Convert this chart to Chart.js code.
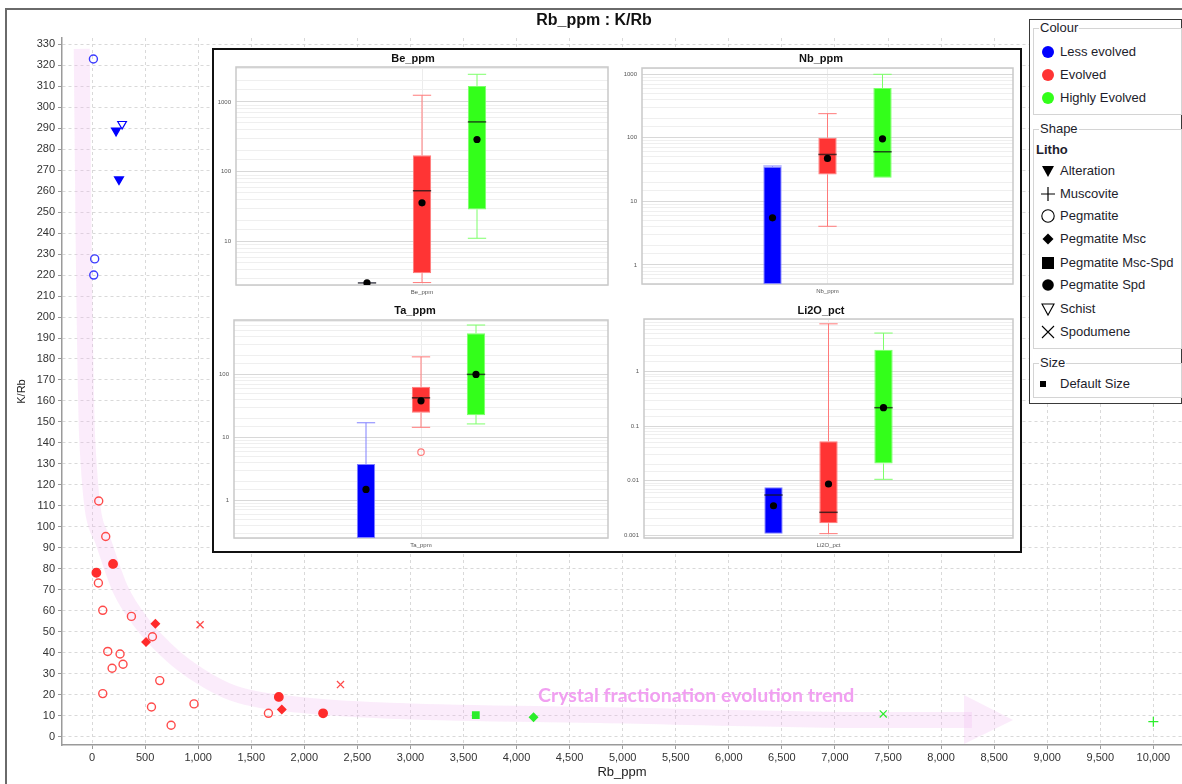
<!DOCTYPE html>
<html>
<head>
<meta charset="utf-8">
<title>Rb_ppm : K/Rb</title>
<script src="https://cdn.jsdelivr.net/npm/chart.js@4/dist/chart.umd.min.js"></script>
<style>
  html, body { margin: 0; padding: 0; background: #fff; }
  body { width: 1182px; height: 784px; position: relative; overflow: hidden;
         font-family: "Liberation Sans", Arial, sans-serif; }
  #frame { position: absolute; left: 5px; top: 8px; width: 1300px; height: 900px;
           border-left: 2px solid #6a6a6a; border-top: 2px solid #6a6a6a; }
  #main { position: absolute; left: 0; top: 0; }
  #title { position: absolute; left: 0; width: 1188px; top: 11px; text-align: center;
           font: bold 16px "Liberation Sans", Arial, sans-serif; color: #111; }
  #inset { position: absolute; left: 212px; top: 48px; width: 810px; height: 505px;
           box-sizing: border-box; border: 2px solid #111; background: #fff; }
  .panel { position: absolute; }
  #legend { position: absolute; left: 1029px; top: 19px; width: 153px; height: 385px;
            box-sizing: border-box; border: 1.5px solid #3a3a3a; background: #fff;
            font: 13px "Liberation Sans", Arial, sans-serif; color: #1d1d2b; }
  .grp { position: absolute; border: 1px solid #d4d4d4; box-sizing: border-box; }
  .grp-label { position: absolute; background: #fff; padding: 0 1px; line-height: 14px; }
  .item { position: absolute; height: 16px; line-height: 16px; white-space: nowrap; }
  .sym { position: absolute; width: 16px; height: 16px; }
</style>
</head>
<body>
<div id="frame"></div>
<canvas id="main" width="1182" height="784"></canvas>
<div id="title">Rb_ppm : K/Rb</div>

<div id="inset"></div>
<canvas class="panel" id="pBe" width="399" height="250" style="left:214px;top:50px"></canvas>
<canvas class="panel" id="pNb" width="406" height="250" style="left:613px;top:50px"></canvas>
<canvas class="panel" id="pTa" width="399" height="251" style="left:214px;top:300px"></canvas>
<canvas class="panel" id="pLi" width="406" height="251" style="left:613px;top:300px"></canvas>

<div id="legend"></div>

<script>
// ---------------- Scatter samples: [Rb_ppm, K/Rb] ----------------
const lessPegmatite     = [[13, 323], [25, 227.7], [16, 220]];
const lessAlteration    = [[226, 288.8], [254, 265.6]];
const lessSchist        = [[283, 292]];
const evolvedPegmatite  = [[63, 112.3], [129, 95.4], [60, 73.2], [101, 60.2], [371, 57.3], [569, 47.6],
                           [148, 40.6], [264, 39.4], [292, 34.5], [189, 32.6], [638, 26.7], [101, 20.5],
                           [560, 14.1], [961, 15.6], [745, 5.4], [1662, 11.1]];
const evolvedPegSpd     = [[198, 82.3], [41, 78.1], [1760, 18.9], [2177, 11.1]];
const evolvedPegMsc     = [[597, 53.8], [509, 45.1], [1788, 12.9]];
const evolvedSpodumene  = [[1018, 53.3], [2341, 24.8]];
const highPegMscSpd     = [[3616, 10.2]];
const highPegMsc        = [[4160, 9.2]];
const highSpodumene     = [[7455, 10.8]];
const highMuscovite     = [[10000, 7.1]];

// Axis tick values
const rbTicks  = [0, 500, 1000, 1500, 2000, 2500, 3000, 3500, 4000, 4500, 5000,
                  5500, 6000, 6500, 7000, 7500, 8000, 8500, 9000, 9500, 10000];
const kRbTicks = [0, 10, 20, 30, 40, 50, 60, 70, 80, 90, 100, 110, 120, 130, 140, 150, 160,
                  170, 180, 190, 200, 210, 220, 230, 240, 250, 260, 270, 280, 290, 300, 310, 320, 330];

// Hand-drawn fractionation trend (data coordinates) and its arrow head
const trendPath = [[-97, 327.8], [-78, 231.7], [-45, 141.3], [101, 93.7], [271, 69.8], [468, 54.1],
                   [761, 38.4], [1015, 28.9], [1326, 20.8], [1958, 15.1], [2899, 12.2], [4785, 10.3],
                   [7424, 7.9], [8291, 7.9]];
const trendArrowHead = [[8216, 19.8], [8678, 7.9], [8216, -3.5]];
const trendLabel = 'Crystal fractionation evolution trend';
const trendLabelAt = [5693, 19.4];

// ---------------- Box-plot statistics ----------------
// rows: Less evolved, Evolved, Highly Evolved
// columns: [lower whisker, Q1, median, Q3, upper whisker, mean]
const groups = ['Less evolved', 'Evolved', 'Highly Evolved'];
const beBox = [[null, 2.54, 2.57, 2.61, null, 2.57],
               [2.6, 3.54, 53.6, 173, 1247, 36],
               [11.2, 29, 518, 1693, 2487, 290]];
const nbBox = [[null, 0.5, null, 35, 36, 5.5],
               [4.05, 26.5, 54.7, 100, 240, 47.3],
               [null, 23.6, 60.3, 609, 1000, 96.5]];
const taBox = [[null, 0.25, null, 3.77, 17, 1.48],
               [14.4, 24.5, 42.4, 63.5, 190, 38],
               [16.3, 22.5, 100, 450, 610, 100]];
const liBox = [[null, 0.00107, 0.00546, 0.00757, null, 0.00347],
               [0.00107, 0.00165, 0.00263, 0.053, 7.5, 0.0087],
               [0.0106, 0.0206, 0.218, 2.5, 5.08, 0.218]];
const taOutliers = [[], [5.8], []];

// ---------------- Styling ----------------
const BLUE = '#0000ff', BLUE_OPEN = '#3b3bff';
const RED = '#ff2b2b', RED_OPEN = '#ff4a4a';
const GREEN = '#2bee2b';
const boxFill  = ['#0000ff', '#ff3434', '#33ff1a'];
const boxLine  = ['#8080ff', '#ff7a7a', '#7dff6a'];
const tickFont = { family: '"Liberation Sans", Arial, sans-serif', size: 11 };

const xy = arr => arr.map(p => ({ x: p[0], y: p[1] }));

function pts(data, style, color, opts = {}) {
  return Object.assign({
    data: xy(data), pointStyle: style, pointRadius: 4,
    borderColor: color, backgroundColor: color, pointBorderWidth: 1.4, showLine: false
  }, opts);
}

// Arrow head + trend caption, drawn with the chart's own scales
const trendDecor = {
  id: 'trendDecor',
  beforeDatasetsDraw(chart) {
    const { ctx, scales: { x, y } } = chart;
    ctx.save();
    ctx.beginPath();
    trendArrowHead.forEach((p, i) => {
      const px = x.getPixelForValue(p[0]), py = y.getPixelForValue(p[1]);
      i ? ctx.lineTo(px, py) : ctx.moveTo(px, py);
    });
    ctx.closePath();
    ctx.fillStyle = 'rgba(240,185,240,0.28)';
    ctx.fill();
    ctx.font = 'bold 19.5px Lato, "Open Sans", sans-serif';
    ctx.fillStyle = '#f19ff1';
    ctx.textAlign = 'center';
    ctx.textBaseline = 'middle';
    ctx.fillText(trendLabel, x.getPixelForValue(trendLabelAt[0]), y.getPixelForValue(trendLabelAt[1]));
    ctx.restore();
  }
};

const fixedTicks = values => scale => { scale.ticks = values.map(v => ({ value: v })); };

new Chart(document.getElementById('main'), {
  type: 'scatter',
  data: {
    datasets: [
      { type: 'line', data: xy(trendPath), borderColor: 'rgba(240,185,240,0.28)', borderWidth: 16,
        pointRadius: 0, cubicInterpolationMode: 'monotone', fill: false, order: 100 },
      pts(lessPegmatite, 'circle', BLUE_OPEN, { backgroundColor: 'rgba(0,0,0,0)' }),
      pts(lessAlteration, 'triangle', BLUE, { rotation: 180, pointRadius: 5 }),
      pts(lessSchist, 'triangle', BLUE, { rotation: 180, pointRadius: 5, backgroundColor: '#fff', pointBorderWidth: 1.2 }),
      pts(evolvedPegmatite, 'circle', RED_OPEN, { backgroundColor: 'rgba(0,0,0,0)' }),
      pts(evolvedPegSpd, 'circle', RED, { pointRadius: 4.2 }),
      pts(evolvedPegMsc, 'rectRot', RED, { pointRadius: 4 }),
      pts(evolvedSpodumene, 'crossRot', RED_OPEN, { pointRadius: 5, pointBorderWidth: 1.3 }),
      pts(highPegMscSpd, 'rect', GREEN, { pointRadius: 4.5 }),
      pts(highPegMsc, 'rectRot', GREEN, { pointRadius: 4 }),
      pts(highSpodumene, 'crossRot', GREEN, { pointRadius: 5, pointBorderWidth: 1.2 }),
      pts(highMuscovite, 'cross', GREEN, { pointRadius: 5, pointBorderWidth: 1.2 })
    ]
  },
  options: {
    responsive: false, animation: false, events: [],
    layout: { autoPadding: false, padding: { left: 10, top: 38, right: 0, bottom: 0 } },
    plugins: { legend: { display: false }, tooltip: { enabled: false } },
    scales: {
      x: {
        type: 'linear', min: -283, max: 10270,
        afterBuildTicks: fixedTicks(rbTicks),
        ticks: { autoSkip: false, maxRotation: 0, font: tickFont, color: '#333', padding: 2,
                 callback: v => v.toLocaleString('en-US') },
        grid: { color: '#d9d9d9', tickLength: 4, tickColor: '#999' },
        border: { color: '#9a9a9a', width: 1.5, dash: [3, 3] },
        title: { display: true, text: 'Rb_ppm', color: '#222', padding: { top: 2, bottom: 4 },
                 font: { family: tickFont.family, size: 13 } },
        afterFit: s => { s.height = 39; s.paddingLeft = 0; s.paddingRight = 0; }
      },
      y: {
        type: 'linear', min: -4, max: 333,
        afterBuildTicks: fixedTicks(kRbTicks),
        ticks: { autoSkip: false, font: tickFont, color: '#333', padding: 3 },
        grid: { color: '#d9d9d9', tickLength: 4, tickColor: '#999' },
        border: { color: '#9a9a9a', width: 1.5, dash: [3, 3] },
        title: { display: true, text: 'K/Rb', color: '#222', padding: { top: 5, bottom: 2 },
                 font: { family: tickFont.family, size: 11 } },
        afterFit: s => { s.width = 52; }
      }
    }
  },
  plugins: [trendDecor]
});

// ---------------- Box-plot panels ----------------
const panelFrame = {
  id: 'panelFrame',
  beforeDatasetsDraw(chart) {
    const { ctx, chartArea: a } = chart;
    ctx.save();
    ctx.strokeStyle = '#c9c9c9';
    ctx.lineWidth = 1.5;
    ctx.strokeRect(a.left, a.top, a.right - a.left, a.bottom - a.top);
    ctx.restore();
  }
};

const panelTitle = {
  id: 'panelTitle',
  afterDraw(chart, args, opts) {
    const { ctx } = chart;
    ctx.save();
    ctx.font = 'bold 11px "Liberation Sans", Arial, sans-serif';
    ctx.fillStyle = '#111';
    ctx.textAlign = 'center';
    ctx.textBaseline = 'middle';
    ctx.fillText(opts.text, opts.x, opts.y);
    ctx.restore();
  }
};

const boxStats = {
  id: 'boxStats',
  afterDatasetsDraw(chart, args, opts) {
    const { ctx, scales: { y } } = chart;
    const a = chart.chartArea;
    ctx.save();
    ctx.beginPath();
    ctx.rect(a.left, a.top, a.right - a.left, a.bottom - a.top);
    ctx.clip();
    opts.stats.forEach((row, i) => {
      const bar = chart.getDatasetMeta(i).data[0];
      const cx = bar.x, hw = bar.width / 2;
      const [lo, q1, med, q3, hi, mean] = row;
      ctx.strokeStyle = boxLine[i];
      ctx.lineWidth = 1;
      const whisker = (from, to) => {
        const y1 = y.getPixelForValue(from), y2 = y.getPixelForValue(to);
        ctx.beginPath();
        ctx.moveTo(cx, y1); ctx.lineTo(cx, y2);
        ctx.moveTo(cx - hw, y2); ctx.lineTo(cx + hw, y2);
        ctx.stroke();
      };
      if (hi !== null) whisker(q3, hi);
      if (lo !== null) whisker(q1, lo);
      if (med !== null) {
        const ym = y.getPixelForValue(med);
        ctx.strokeStyle = 'rgba(20,20,20,0.75)';
        ctx.lineWidth = 1.5;
        ctx.beginPath();
        ctx.moveTo(cx - hw, ym); ctx.lineTo(cx + hw, ym);
        ctx.stroke();
      }
      if (mean !== null) {
        ctx.fillStyle = '#000';
        ctx.beginPath();
        ctx.arc(cx, y.getPixelForValue(mean), 3.6, 0, Math.PI * 2);
        ctx.fill();
      }
      (opts.outliers[i] || []).forEach(v => {
        ctx.strokeStyle = boxLine[i];
        ctx.lineWidth = 1.2;
        ctx.beginPath();
        ctx.arc(cx, y.getPixelForValue(v), 3.2, 0, Math.PI * 2);
        ctx.stroke();
      });
    });
    ctx.restore();
  }
};

const logLabel = v => {
  const e = Math.log10(v);
  return Math.abs(e - Math.round(e)) < 1e-6 ? String(Number(v.toPrecision(1))) : '';
};

function boxPanel(id, name, stats, outliers, range, area) {
  const canvas = document.getElementById(id);
  const w = canvas.width, h = canvas.height;
  new Chart(canvas, {
    type: 'bar',
    data: {
      labels: [name],
      datasets: stats.map((row, i) => ({
        label: groups[i],
        data: [[row[1], row[3]]],
        backgroundColor: boxFill[i],
        borderColor: boxLine[i],
        borderWidth: 1,
        borderSkipped: false,
        barPercentage: 0.333,
        categoryPercentage: 165 / (area.right - area.left)
      }))
    },
    options: {
      responsive: false, animation: false, events: [],
      layout: { padding: { left: 0, top: area.top, right: w - area.right, bottom: 0 } },
      plugins: {
        legend: { display: false }, tooltip: { enabled: false },
        panelTitle: { text: name, x: area.titleX, y: area.titleY },
        boxStats: { stats, outliers }
      },
      scales: {
        x: {
          grid: { offset: false, color: '#ececec', drawTicks: false },
          border: { display: false },
          ticks: { font: { size: 6 }, color: '#555', padding: 4 },
          afterFit: s => { s.height = h - area.bottom; }
        },
        y: {
          type: 'logarithmic', min: range[0], max: range[1],
          grid: { drawTicks: false,
                  color: c => (c.tick && logLabel(c.tick.value) !== '' ? '#d8d8d8' : '#efefef') },
          border: { display: false },
          ticks: { autoSkip: false, font: { size: 6 }, color: '#555', padding: 5, callback: logLabel },
          afterFit: s => { s.width = area.left; }
        }
      }
    },
    plugins: [panelFrame, boxStats, panelTitle]
  });
}

boxPanel('pBe', 'Be_ppm', beBox, [[], [], []], [2.4, 3162],
         { left: 22, right: 394, top: 17, bottom: 235, titleX: 199, titleY: 9 });
boxPanel('pNb', 'Nb_ppm', nbBox, [[], [], []], [0.5, 1256],
         { left: 29, right: 400, top: 18, bottom: 234, titleX: 208, titleY: 9 });
boxPanel('pTa', 'Ta_ppm', taBox, taOutliers, [0.25, 733],
         { left: 20, right: 394, top: 20, bottom: 238, titleX: 201, titleY: 11 });
boxPanel('pLi', 'Li2O_pct', liBox, [[], [], []], [0.00089, 9.2],
         { left: 31, right: 400, top: 19, bottom: 238, titleX: 208, titleY: 11 });

// ---------------- Legend ----------------
const symbolSvg = {
  dot:      c => `<circle cx="8" cy="8" r="6" fill="${c}"/>`,
  down:     () => `<polygon points="2,3 14,3 8,14" fill="#000"/>`,
  plus:     () => `<path d="M1,8H15M8,1V15" stroke="#000" stroke-width="1.2"/>`,
  ring:     () => `<circle cx="8" cy="8" r="6.2" fill="none" stroke="#000" stroke-width="1.1"/>`,
  diamond:  () => `<polygon points="8,2.5 13.5,8 8,13.5 2.5,8" fill="#000"/>`,
  square:   () => `<rect x="2" y="2" width="12" height="12" fill="#000"/>`,
  disc:     () => `<circle cx="8" cy="8" r="5.8" fill="#000"/>`,
  downOpen: () => `<polygon points="2,3 14,3 8,14" fill="none" stroke="#000" stroke-width="1.1"/>`,
  cross:    () => `<path d="M2,2L14,14M14,2L2,14" stroke="#000" stroke-width="1.1"/>`,
  small:    () => `<rect x="5" y="5" width="6" height="6" fill="#000"/>`
};

const colourItems = [['Less evolved', '#0000ff'], ['Evolved', '#ff3434'], ['Highly Evolved', '#33ff1a']];
const shapeItems = [['Alteration', 'down'], ['Muscovite', 'plus'], ['Pegmatite', 'ring'],
                    ['Pegmatite Msc', 'diamond'], ['Pegmatite Msc-Spd', 'square'], ['Pegmatite Spd', 'disc'],
                    ['Schist', 'downOpen'], ['Spodumene', 'cross']];

const legendEl = document.getElementById('legend');
const L0 = { x: 1029, y: 19 };
let html = '';
const box = (top, bottom, label) => {
  html += `<div class="grp" style="left:${1032 - L0.x}px;top:${top - L0.y}px;width:${1181 - 1032}px;height:${bottom - top}px"></div>`;
  html += `<div class="grp-label" style="left:${1038 - L0.x}px;top:${top - L0.y - 7}px">${label}</div>`;
};
const item = (cy, text, svg, symX = 1039) => {
  html += `<svg class="sym" viewBox="0 0 16 16" style="left:${symX - L0.x}px;top:${cy - 8 - L0.y}px">${svg}</svg>`;
  html += `<div class="item" style="left:${1059 - L0.x}px;top:${cy - 8 - L0.y}px">${text}</div>`;
};
box(27, 114, 'Colour');
[50.7, 74.3, 96.7].forEach((cy, i) => item(cy, colourItems[i][0], symbolSvg.dot(colourItems[i][1])));
box(128, 348, 'Shape');
html += `<div class="item" style="left:${1035 - L0.x}px;top:${149 - 8 - L0.y}px;font-weight:bold">Litho</div>`;
[170, 192.7, 215, 238.3, 261.7, 284.3, 308.3, 331].forEach((cy, i) =>
  item(cy, shapeItems[i][0], symbolSvg[shapeItems[i][1]]()));
box(362, 397, 'Size');
item(383, 'Default Size', symbolSvg.small(), 1034);
legendEl.innerHTML = html;
</script>
</body>
</html>
